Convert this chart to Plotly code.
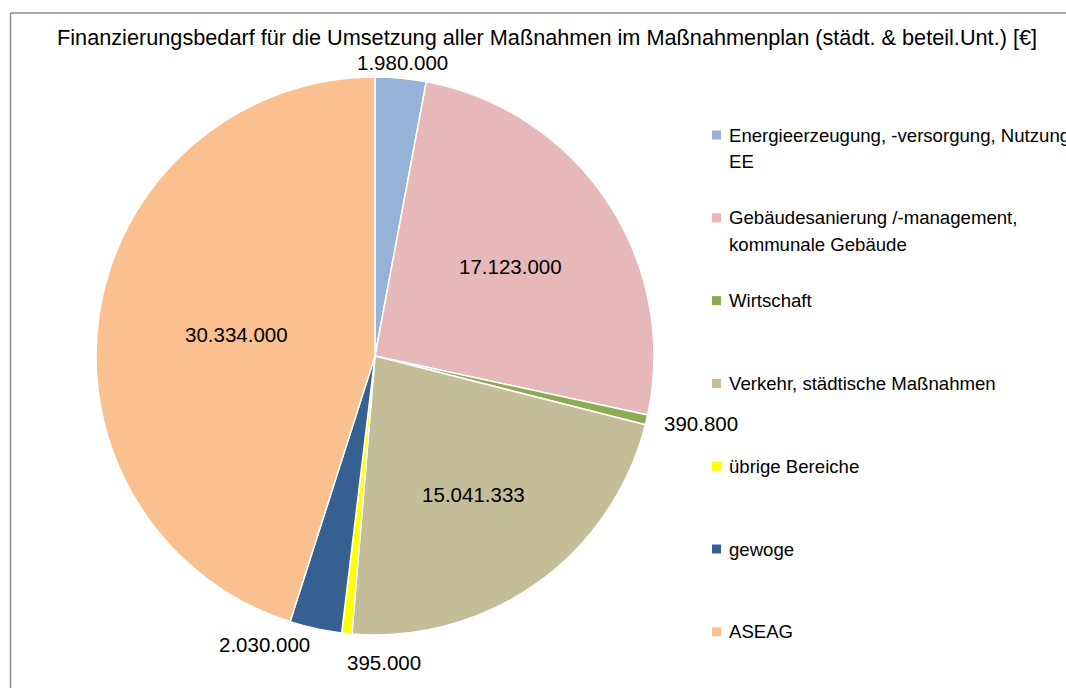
import math
import plotly.graph_objects as go

categories = [
    "Energieerzeugung, -versorgung, Nutzung EE",
    "Gebäudesanierung /-management, kommunale Gebäude",
    "Wirtschaft",
    "Verkehr, städtische Maßnahmen",
    "übrige Bereiche",
    "gewoge",
    "ASEAG",
]
legend_lines = [
    ["Energieerzeugung, -versorgung, Nutzung", "EE"],
    ["Gebäudesanierung /-management,", "kommunale Gebäude"],
    ["Wirtschaft"],
    ["Verkehr, städtische Maßnahmen"],
    ["übrige Bereiche"],
    ["gewoge"],
    ["ASEAG"],
]
values = [1980000, 17123000, 390800, 15041333, 395000, 2030000, 30334000]
colors = ["#95B3D7", "#E6B9B8", "#8EAA52", "#C4BD97", "#FFFF00", "#376092", "#FAC090"]
inside = [False, True, False, True, False, False, True]
# anchors for outside labels (style only)
out_anchor = [("center", "middle"), None, ("left", "middle"), None, ("left", "top"), ("right", "middle"), None]
title = "Finanzierungsbedarf für die Umsetzung aller Maßnahmen im Maßnahmenplan (städt. & beteil.Unt.) [€]"

W, H = 1066, 688
FONT = "Liberation Sans, Arial, sans-serif"

cx, cy, r = 375, 356, 279

fig = go.Figure(go.Pie(
    labels=categories,
    values=values,
    sort=False,
    direction="clockwise",
    rotation=0,
    marker=dict(colors=colors, line=dict(color="white", width=1.5)),
    text=[f"{v:,}".replace(",", ".") if ins else "" for v, ins in zip(values, inside)],
    textinfo="text",
    textposition=["inside" if ins else "none" for ins in inside],
    insidetextorientation="horizontal",
    textfont=dict(family=FONT, size=20.5, color="black"),
    showlegend=False,
    hoverinfo="label+value",
    domain=dict(x=[(cx - r) / W, (cx + r) / W], y=[1 - (cy + r) / H, 1 - (cy - r) / H]),
))

shapes = []
annotations = []

# outside data labels, placed along each slice's mid-angle
total = sum(values)
cum = 0
for v, ins, anc in zip(values, inside, out_anchor):
    mid = (cum + v / 2) / total * 2 * math.pi
    cum += v
    if ins:
        continue
    R = r + 16
    px = cx + R * math.sin(mid)
    py = cy - R * math.cos(mid)
    annotations.append(dict(xref="paper", yref="paper", x=px / W, y=1 - py / H,
                            xanchor=anc[0], yanchor=anc[1], showarrow=False,
                            text=f"{v:,}".replace(",", "."),
                            font=dict(family=FONT, size=20.5, color="black")))

# border (left and top edges visible)
shapes.append(dict(type="line", xref="paper", yref="paper",
                   x0=10.5 / W, x1=1.1, y0=1 - 13 / H, y1=1 - 13 / H,
                   line=dict(color="#8C8C8C", width=1.5)))
shapes.append(dict(type="line", xref="paper", yref="paper",
                   x0=10.5 / W, x1=10.5 / W, y0=1 - 13 / H, y1=-0.1,
                   line=dict(color="#8C8C8C", width=1.5)))

# legend
y_first = 135
step = 82.8
for i, (lines, col) in enumerate(zip(legend_lines, colors)):
    yc = y_first + i * step
    shapes.append(dict(type="rect", xref="paper", yref="paper",
                       x0=712 / W, x1=721 / W, y0=1 - (yc + 4.5) / H, y1=1 - (yc - 4.5) / H,
                       fillcolor=col, line=dict(width=0)))
    for j, ln in enumerate(lines):
        annotations.append(dict(xref="paper", yref="paper", x=727 / W, y=1 - (yc + j * 26.5) / H,
                                xanchor="left", yanchor="middle", showarrow=False, text=ln,
                                font=dict(family=FONT, size=18.6, color="black")))

annotations.append(dict(xref="paper", yref="paper", x=547 / W, y=1 - 38 / H,
                        xanchor="center", yanchor="middle", showarrow=False, text=title,
                        font=dict(family=FONT, size=21.7, color="black")))

fig.update_layout(
    width=W, height=H,
    margin=dict(l=0, r=0, t=0, b=0),
    paper_bgcolor="white",
    plot_bgcolor="white",
    separators=",.",
    shapes=shapes,
    annotations=annotations,
)

fig.write_html("out.html", config={"displayModeBar": False},
               post_script="document.body.style.margin='0';document.body.style.overflow='hidden';")
